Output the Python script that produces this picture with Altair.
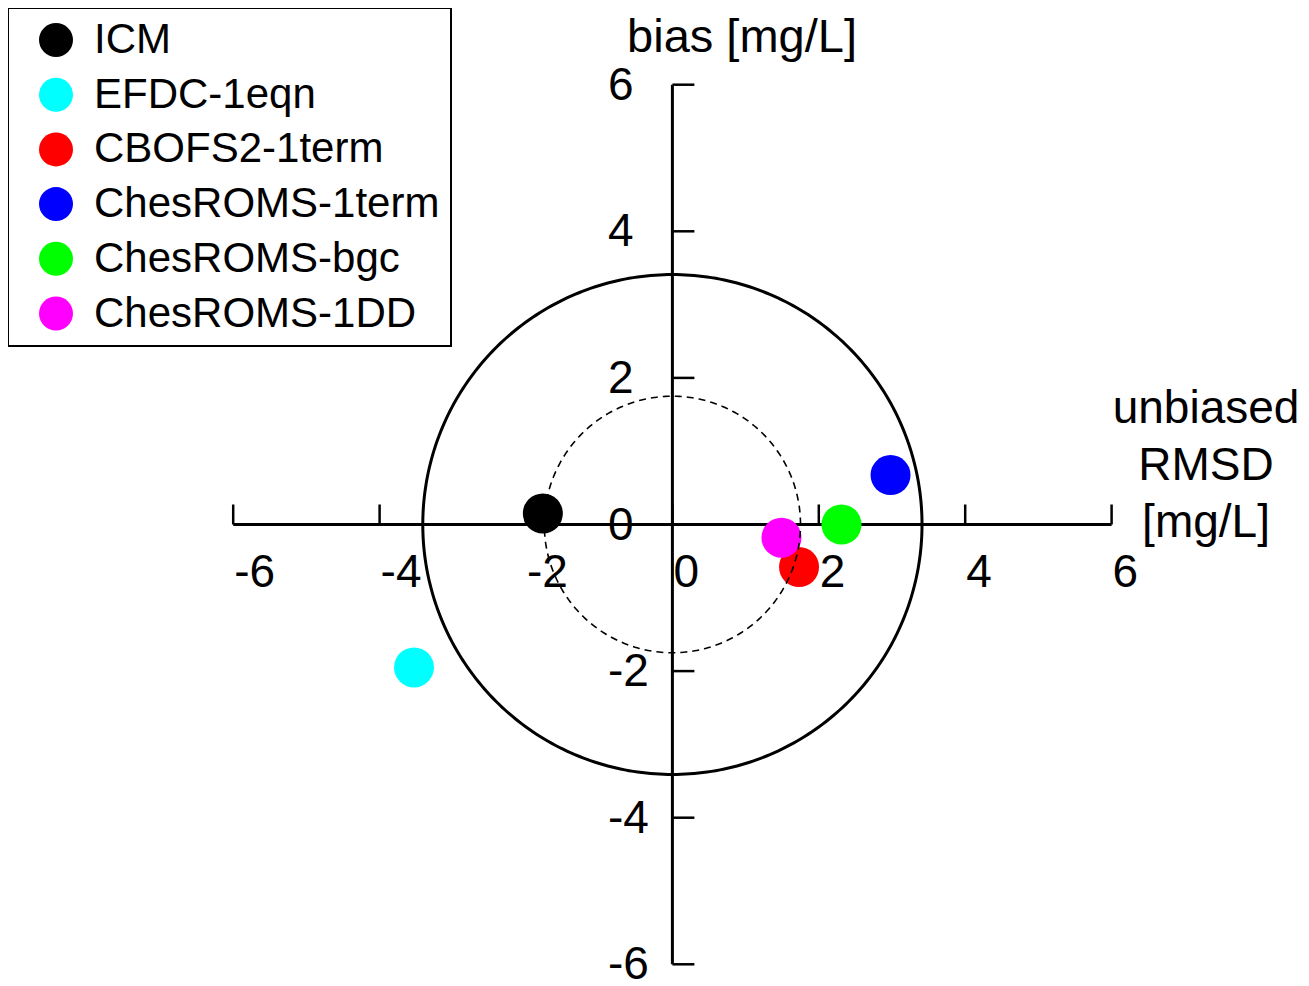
import altair as alt
import pandas as pd
import numpy as np

# ---- data ----
models = ["ICM", "EFDC-1eqn", "CBOFS2-1term", "ChesROMS-1term", "ChesROMS-bgc", "ChesROMS-1DD"]
colors = ["#000000", "#00ffff", "#ff0000", "#0000ff", "#00ff00", "#ff00ff"]
urmsd = [-1.77, -3.53, 1.73, 2.98, 2.31, 1.49]      # unbiased RMSD (signed) [mg/L]
bias = [0.15, -1.95, -0.58, 0.675, 0.0, -0.18]      # bias [mg/L]
tick_values = [-6, -4, -2, 0, 2, 4, 6]
tick_labels = ["-6", "-4", "-2", "0", "2", "4", "6"]
outer_radius = 3.41
inner_radius = 1.75

FONT = "Liberation Sans"

# ---- layout (plot area is the whole canvas) ----
W, H = 1293, 975
PX_X, PX_Y = 73.2, 73.3            # pixels per unit
X0_PAGE, Y0_PAGE = 672.4, 524.5    # page position of the origin
XMIN = -(X0_PAGE - 8) / PX_X
XMAX = XMIN + W / PX_X
YMAX = (Y0_PAGE - 8) / PX_Y
YMIN = YMAX - H / PX_Y

xs = alt.Scale(domain=[XMIN, XMAX], nice=False, zero=False)
ys = alt.Scale(domain=[YMIN, YMAX], nice=False, zero=False)

pts = pd.DataFrame({"model": models, "urmsd": urmsd, "bias": bias})

theta = np.linspace(0, 2 * np.pi, 361)
def circle_df(r):
    return pd.DataFrame({"x": r * np.cos(theta), "y": r * np.sin(theta), "i": np.arange(len(theta))})

ticks = pd.DataFrame({"v": tick_values, "lab": tick_labels, "zero": [0] * len(tick_values)})
axis_df = pd.DataFrame({"a": [tick_values[0]], "b": [tick_values[-1]], "z": [0]})

# axis lines
xaxis_line = alt.Chart(axis_df).mark_rule(color="black", strokeWidth=3).encode(
    x=alt.X("a:Q", scale=xs, axis=None), x2="b:Q", y=alt.Y("z:Q", scale=ys, axis=None))
yaxis_line = alt.Chart(axis_df).mark_rule(color="black", strokeWidth=3).encode(
    y=alt.Y("a:Q", scale=ys, axis=None), y2="b:Q", x=alt.X("z:Q", scale=xs, axis=None))

xticks = alt.Chart(ticks).mark_tick(orient="vertical", size=20, thickness=2.5, color="black",
                                    yOffset=-10, opacity=1).encode(
    x=alt.X("v:Q", scale=xs, axis=None), y=alt.Y("zero:Q", scale=ys, axis=None))
yticks = alt.Chart(ticks).mark_tick(orient="horizontal", size=22, thickness=2.5, color="black",
                                    xOffset=11, opacity=1).encode(
    y=alt.Y("v:Q", scale=ys, axis=None), x=alt.X("zero:Q", scale=xs, axis=None))

xlabels = alt.Chart(ticks).mark_text(font=FONT, fontSize=46, align="left", baseline="alphabetic",
                                     dx=1, dy=62.5, color="black").encode(
    x=alt.X("v:Q", scale=xs, axis=None), y=alt.Y("zero:Q", scale=ys, axis=None), text="lab:N")
ylabels = alt.Chart(ticks).mark_text(font=FONT, fontSize=46, align="left", baseline="middle",
                                     dx=-64.4, dy=1, color="black").encode(
    y=alt.Y("v:Q", scale=ys, axis=None), x=alt.X("zero:Q", scale=xs, axis=None), text="lab:N")

outer = alt.Chart(circle_df(outer_radius)).mark_line(color="black", strokeWidth=3).encode(
    x=alt.X("x:Q", scale=xs, axis=None), y=alt.Y("y:Q", scale=ys, axis=None), order="i:Q")
inner = alt.Chart(circle_df(inner_radius)).mark_line(color="black", strokeWidth=1.6,
                                                    strokeDash=[7, 5]).encode(
    x=alt.X("x:Q", scale=xs, axis=None), y=alt.Y("y:Q", scale=ys, axis=None), order="i:Q")

points = alt.Chart(pts).mark_circle(size=1600, opacity=1).encode(
    x=alt.X("urmsd:Q", scale=xs, axis=None),
    y=alt.Y("bias:Q", scale=ys, axis=None),
    color=alt.Color("model:N", sort=models,
                    scale=alt.Scale(domain=models, range=colors),
                    legend=alt.Legend(orient="none", legendX=0, legendY=0, title=None,
                                      labelFont=FONT, labelFontSize=42, labelColor="black",
                                      labelLimit=0, symbolType="circle", symbolSize=1156,
                                      symbolStrokeWidth=0, symbolOpacity=1,
                                      strokeColor="black", fillColor="white",
                                      padding=11, rowPadding=12.7, labelOffset=17,
                                      symbolOffset=16)),
    order=alt.Order("ord:Q"),
).transform_calculate(ord="indexof(" + str(models) + ", datum.model)")

ytitle = alt.Chart().mark_text(font=FONT, fontSize=47, align="center", baseline="alphabetic",
                               color="black", text="bias [mg/L]").encode(
    x=alt.X(datum=0.951, scale=xs, axis=None), y=alt.Y(datum=6.45, scale=ys, axis=None))
xtitle = alt.Chart().mark_text(font=FONT, fontSize=46, align="center", baseline="alphabetic",
                               color="black", lineHeight=57,
                               text=["unbiased", "RMSD", "[mg/L]"]).encode(
    x=alt.X(datum=7.29, scale=xs, axis=None), y=alt.Y(datum=1.385, scale=ys, axis=None))

chart = alt.layer(
    xaxis_line, yaxis_line, xticks, yticks, xlabels, ylabels, points, outer, inner, ytitle, xtitle
).properties(
    width=W, height=H, padding=0, autosize=alt.AutoSizeParams(type="none")
).configure_view(stroke=None).configure_legend(strokeWidth=2, cornerRadius=0)

chart.save("out.html", embed_options={"renderer": "svg", "actions": False})
